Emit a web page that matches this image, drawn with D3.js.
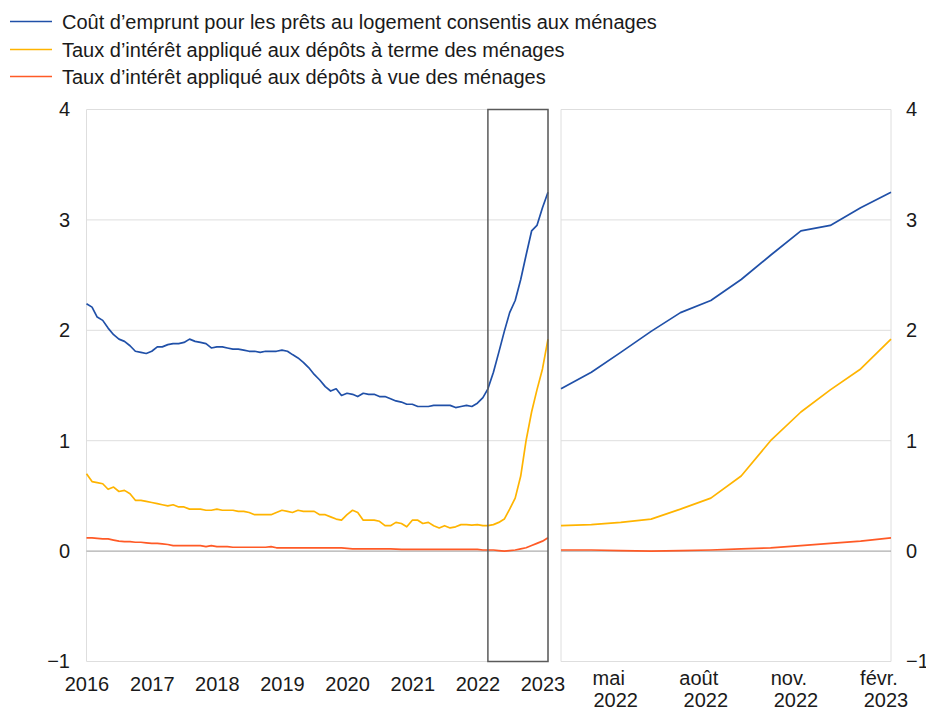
<!DOCTYPE html>
<html>
<head>
<meta charset="utf-8">
<script src="https://cdn.jsdelivr.net/npm/d3@7"></script>
<style>
  html, body { margin: 0; padding: 0; background: #fff; }
  svg { display: block; font-family: "Liberation Sans", Arial, sans-serif; }
</style>
</head>
<body>
<svg id="chart" width="926" height="718"></svg>
<script>
// ---- Data (monthly, Jan 2016 – Feb 2023) ----
const seriesNames = [
  "Coût d’emprunt pour les prêts au logement consentis aux ménages",
  "Taux d’intérêt appliqué aux dépôts à terme des ménages",
  "Taux d’intérêt appliqué aux dépôts à vue des ménages"
];
const seriesColors = ["#2050a8", "#ffb400", "#ff5a26"];

const startMonth = new Date(2016, 0, 1);
const endMonth = new Date(2023, 1, 1);
const months = d3.timeMonth.range(startMonth, d3.timeMonth.offset(endMonth, 1));

const housingLoans = [
  2.24, 2.21, 2.12, 2.09, 2.02, 1.96, 1.92, 1.90, 1.86, 1.81, 1.80, 1.79,
  1.81, 1.85, 1.85, 1.87, 1.88, 1.88, 1.89, 1.92, 1.90, 1.89, 1.88, 1.84,
  1.85, 1.85, 1.84, 1.83, 1.83, 1.82, 1.81, 1.81, 1.80, 1.81, 1.81, 1.81,
  1.82, 1.81, 1.78, 1.75, 1.71, 1.66, 1.60, 1.55, 1.49, 1.45, 1.47, 1.41,
  1.43, 1.42, 1.40, 1.43, 1.42, 1.42, 1.40, 1.40, 1.38, 1.36, 1.35, 1.33,
  1.33, 1.31, 1.31, 1.31, 1.32, 1.32, 1.32, 1.32, 1.30, 1.31, 1.32, 1.31,
  1.34, 1.39, 1.47, 1.62, 1.80, 1.99, 2.16, 2.27, 2.46, 2.68, 2.90, 2.95,
  3.11, 3.25
];
const termDeposits = [
  0.70, 0.63, 0.62, 0.61, 0.56, 0.58, 0.54, 0.55, 0.52, 0.46, 0.46, 0.45,
  0.44, 0.43, 0.42, 0.41, 0.42, 0.40, 0.40, 0.38, 0.38, 0.38, 0.37, 0.37,
  0.38, 0.37, 0.37, 0.37, 0.36, 0.36, 0.35, 0.33, 0.33, 0.33, 0.33, 0.35,
  0.37, 0.36, 0.35, 0.37, 0.36, 0.36, 0.36, 0.33, 0.33, 0.31, 0.29, 0.28,
  0.33, 0.37, 0.35, 0.28, 0.28, 0.28, 0.27, 0.23, 0.23, 0.26, 0.25, 0.22,
  0.28, 0.28, 0.25, 0.26, 0.23, 0.21, 0.23, 0.21, 0.22, 0.24, 0.24, 0.235,
  0.24, 0.23, 0.23, 0.24, 0.26, 0.29, 0.38, 0.48, 0.68, 1.00, 1.26, 1.46,
  1.65, 1.92
];
const overnightDeposits = [
  0.12, 0.12, 0.115, 0.11, 0.11, 0.10, 0.09, 0.085, 0.085, 0.08, 0.08, 0.075,
  0.07, 0.07, 0.065, 0.06, 0.05, 0.05, 0.05, 0.05, 0.05, 0.05, 0.04, 0.05,
  0.04, 0.04, 0.04, 0.035, 0.035, 0.035, 0.035, 0.035, 0.035, 0.035, 0.04, 0.03,
  0.03, 0.03, 0.03, 0.03, 0.03, 0.03, 0.03, 0.03, 0.03, 0.03, 0.03, 0.03,
  0.025, 0.02, 0.02, 0.02, 0.02, 0.02, 0.02, 0.02, 0.02, 0.018, 0.016, 0.015,
  0.015, 0.015, 0.015, 0.015, 0.015, 0.015, 0.015, 0.015, 0.015, 0.015, 0.015, 0.015,
  0.015, 0.01, 0.01, 0.01, 0.005, 0.0, 0.005, 0.01, 0.02, 0.03, 0.05, 0.07,
  0.09, 0.12
];

const yTicks = [-1, 0, 1, 2, 3, 4];
const yearLabels = ["2016", "2017", "2018", "2019", "2020", "2021", "2022", "2023"];
const zoomStart = new Date(2022, 2, 1);
const zoomTickDates = [new Date(2022, 4, 1), new Date(2022, 7, 1), new Date(2022, 10, 1), new Date(2023, 1, 1)];
const zoomTickMonths = ["mai", "août", "nov.", "févr."];
const zoomTickYears = ["2022", "2022", "2022", "2023"];

// ---- Layout ----
const svg = d3.select("#chart");
const yTop = 109.5, yBottom = 661.5;
const leftPanel = { x0: 86.5, x1: 548 };
const rightPanel = { x0: 561, x1: 891 };
const gridColor = "#dedede";
const zeroColor = "#999999";
const textColor = "#1a1a1a";
const tickFont = 20;

const y = d3.scaleLinear().domain([-1, 4]).range([yBottom, yTop]);
const xL = d3.scaleTime().domain([startMonth, endMonth]).range([leftPanel.x0, leftPanel.x1]);
const xR = d3.scaleTime().domain([zoomStart, endMonth]).range([rightPanel.x0, rightPanel.x1]);

const allSeries = [housingLoans, termDeposits, overnightDeposits].map((vals, i) => ({
  name: seriesNames[i],
  color: seriesColors[i],
  values: vals.map((v, j) => ({ date: months[j], value: v }))
}));

function drawPanel(x, panel, data) {
  const g = svg.append("g");
  g.selectAll("line.grid").data(yTicks.filter(t => t !== 0)).enter().append("line")
    .attr("x1", panel.x0).attr("x2", panel.x1)
    .attr("y1", d => y(d)).attr("y2", d => y(d))
    .attr("stroke", gridColor).attr("stroke-width", 1);
  g.append("line").attr("x1", panel.x0).attr("x2", panel.x0).attr("y1", yTop).attr("y2", yBottom)
    .attr("stroke", gridColor).attr("stroke-width", 1);
  g.append("line").attr("x1", panel.x1).attr("x2", panel.x1).attr("y1", yTop).attr("y2", yBottom)
    .attr("stroke", gridColor).attr("stroke-width", 1);
  g.append("line").attr("x1", panel.x0).attr("x2", panel.x1)
    .attr("y1", y(0)).attr("y2", y(0))
    .attr("stroke", zeroColor).attr("stroke-width", 1);
  const line = d3.line().x(d => x(d.date)).y(d => y(d.value));
  [...data].reverse().forEach(s => {
    const vals = s.values.filter(d => d.date >= x.domain()[0] && d.date <= x.domain()[1]);
    g.append("path").datum(vals)
      .attr("d", line)
      .attr("fill", "none")
      .attr("stroke", s.color)
      .attr("stroke-width", 1.7)
      .attr("stroke-linejoin", "round");
  });
  return g;
}

drawPanel(xL, leftPanel, allSeries);
drawPanel(xR, rightPanel, allSeries);

svg.append("rect")
  .attr("x", xL(zoomStart)).attr("y", yTop)
  .attr("width", xL(endMonth) - xL(zoomStart))
  .attr("height", yBottom - yTop)
  .attr("fill", "none").attr("stroke", "#5a5a5a").attr("stroke-width", 1.5);

const yAxisL = d3.axisLeft(y).tickValues(yTicks).tickSize(0).tickPadding(0)
  .tickFormat(d => d < 0 ? "\u2212" + Math.abs(d) : String(d));
const gyL = svg.append("g").attr("transform", "translate(70,0)").call(yAxisL);
gyL.select(".domain").remove();
gyL.selectAll("text").attr("font-size", tickFont).attr("fill", textColor)
  .attr("font-family", "Liberation Sans, Arial, sans-serif");

const yAxisR = d3.axisRight(y).tickValues(yTicks).tickSize(0).tickPadding(0)
  .tickFormat(d => d < 0 ? "\u2212" + Math.abs(d) : String(d));
const gyR = svg.append("g").attr("transform", "translate(906,0)").call(yAxisR);
gyR.select(".domain").remove();
gyR.selectAll("text").attr("font-size", tickFont).attr("fill", textColor)
  .attr("font-family", "Liberation Sans, Arial, sans-serif");

const yearDates = yearLabels.map(s => new Date(+s, 0, 1));
const xAxisL = d3.axisBottom(xL).tickValues(yearDates).tickSize(0).tickPadding(0)
  .tickFormat((d, i) => yearLabels[i]);
const gxL = svg.append("g").attr("transform", `translate(0,${yBottom})`).call(xAxisL);
gxL.select(".domain").remove();
gxL.selectAll("text").attr("font-size", tickFont).attr("fill", textColor)
  .attr("font-family", "Liberation Sans, Arial, sans-serif")
  .attr("dy", null).attr("y", 29);

const gxR = svg.append("g");
zoomTickDates.forEach((d, i) => {
  const t = gxR.append("text")
    .attr("font-size", tickFont).attr("fill", textColor)
    .attr("text-anchor", "middle");
  t.append("tspan").attr("x", xR(d) - 12).attr("y", 685).text(zoomTickMonths[i]);
  t.append("tspan").attr("x", xR(d) - 5).attr("y", 707).text(zoomTickYears[i]);
});

const legendY = [21.5, 49.5, 76.5];
const lg = svg.append("g");
allSeries.forEach((s, i) => {
  lg.append("line").attr("x1", 10).attr("x2", 52)
    .attr("y1", legendY[i]).attr("y2", legendY[i])
    .attr("stroke", s.color).attr("stroke-width", 1.7);
  lg.append("text").attr("x", 62).attr("y", legendY[i] + 7)
    .attr("font-size", 20).attr("fill", textColor).text(s.name);
});
</script>
</body>
</html>
